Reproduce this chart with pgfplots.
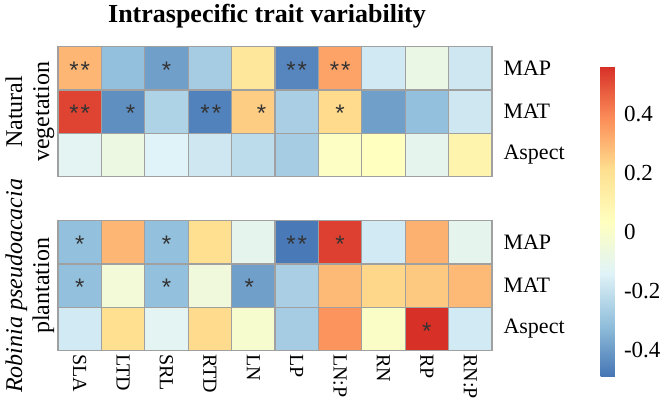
\documentclass[border=0pt]{standalone}
\usepackage{fontspec}
\setmainfont{Liberation Serif}
\newfontfamily\starfont{Liberation Sans}
\usepackage{pgfplots}
\usepackage{pgfplotstable}
\pgfplotsset{compat=1.18}
\definecolor{gridgray}{RGB}{160,160,160}

% Natural vegetation: x = trait index, y: 0 MAP, 1 MAT, 2 Aspect (matrix plot runs y downwards)
\pgfplotstableread{
x y c
0 0 0.30
1 0 -0.31
2 0 -0.39
3 0 -0.27
4 0 0.17
5 0 -0.45
6 0 0.34
7 0 -0.175
8 0 -0.08
9 0 -0.18
0 1 0.525
1 1 -0.43
2 1 -0.25
3 1 -0.46
4 1 0.25
5 1 -0.26
6 1 0.22
7 1 -0.39
8 1 -0.31
9 1 -0.18
0 2 -0.12
1 2 -0.07
2 2 -0.14
3 2 -0.18
4 2 -0.22
5 2 -0.27
6 2 0.02
7 2 0.035
8 2 -0.11
9 2 0.10
}\natdata

% Robinia pseudoacacia plantation
\pgfplotstableread{
x y c
0 0 -0.31
1 0 0.30
2 0 -0.31
3 0 0.21
4 0 -0.11
5 0 -0.48
6 0 0.53
7 0 -0.17
8 0 0.31
9 0 -0.11
0 1 -0.31
1 1 -0.04
2 1 -0.31
3 1 -0.05
4 1 -0.39
5 1 -0.26
6 1 0.29
7 1 0.23
8 1 0.26
9 1 0.29
0 2 -0.17
1 2 0.21
2 2 -0.12
3 2 0.22
4 2 -0.01
5 2 -0.27
6 2 0.37
7 2 0.01
8 2 0.56
9 2 -0.17
}\pladata

\pgfplotsset{
  hm/.style={
    scale only axis, width=434pt, height=130pt,
    xmin=-0.5, xmax=9.5, ymin=-0.5, ymax=2.5,
    colormap={rdylbu}{rgb255=(69,117,180) rgb255=(145,191,219) rgb255=(224,243,248) rgb255=(255,255,191) rgb255=(254,224,144) rgb255=(252,141,89) rgb255=(215,48,39)},
    point meta min=-0.49, point meta max=0.56,
    axis on top,
    xtick={0,...,9}, ytick={0,1,2}, yticklabels={MAP,MAT,Aspect},
    yticklabel pos=right,
    major tick length=0pt, minor tick length=0pt,
    minor xtick={0.5,1.5,...,8.5}, minor ytick={0.5,1.5},
    xminorgrids, yminorgrids,
    minor grid style={draw=gridgray, line width=1.3pt},
    axis line style={draw=gridgray, line width=1.3pt},
    yticklabel style={font=\fontsize{22}{22}\selectfont, anchor=west, xshift=8pt},
    xticklabel style={font=\fontsize{20}{20}\selectfont},
    ylabel style={align=center, font=\fontsize{24}{27}\selectfont, at={(axis description cs:-0.008,0.5)}, anchor=south, inner sep=0pt},
  },
  star1/.style={only marks, mark=text, text mark={\starfont *}, text mark as node=true,
    text mark style={font=\fontsize{24}{24}\selectfont, inner sep=0pt, yshift=-2pt}, black!80},
  star2/.style={only marks, mark=text, text mark={\starfont *\kern2pt*}, text mark as node=true,
    text mark style={font=\fontsize{24}{24}\selectfont, inner sep=0pt, yshift=-2pt}, black!80},
}

\begin{document}
\begin{tikzpicture}
\path[use as bounding box] (0,0) rectangle (661pt,406pt);
\node[font=\bfseries\fontsize{26}{26}\selectfont] at (267pt,390pt) {Intraspecific trait variability};

\begin{axis}[hm, at={(58pt,229.3pt)}, anchor=south west,
  xticklabels={},
  ylabel={Natural\\vegetation}]
\addplot[matrix plot, mesh/cols=10, point meta=explicit] table[x=x,y=y,meta=c] {\natdata};
\addplot[star2] table {
x y
0 0
5 0
6 0
0 1
3.02 1
};
\addplot[star1] table {
x y
2 0
1.17 1
4.19 1
6 1
};
\end{axis}

\begin{axis}[hm, at={(58pt,55.3pt)}, anchor=south west,
  xticklabels={SLA,LTD,SRL,RTD,LN,LP,LN:P,RN,RP,RN:P},
  xticklabel style={rotate=-90, anchor=west},
  ylabel={\textit{Robinia pseudoacacia}\\plantation},
  colorbar,
  colorbar style={
    at={(parent axis.south east)}, anchor=south west, xshift=100pt, yshift=-26pt,
    scale only axis, width=21pt, height=310pt,
    ytick={-0.4,-0.2,0,0.2,0.4}, yticklabels={-0.4,-0.2,0,0.2,0.4},
    axis line style={draw=none}, major tick length=0pt,
    yticklabel style={font=\fontsize{23}{23}\selectfont, anchor=west, xshift=-1pt},
  }]
\addplot[matrix plot, mesh/cols=10, point meta=explicit] table[x=x,y=y,meta=c] {\pladata};
\addplot[star2] table {
x y
5 0
};
\addplot[star1] table {
x y
0 0
2 0
6 0
0 1
2 1
3.91 1
8 2
};
\end{axis}
\end{tikzpicture}
\end{document}
